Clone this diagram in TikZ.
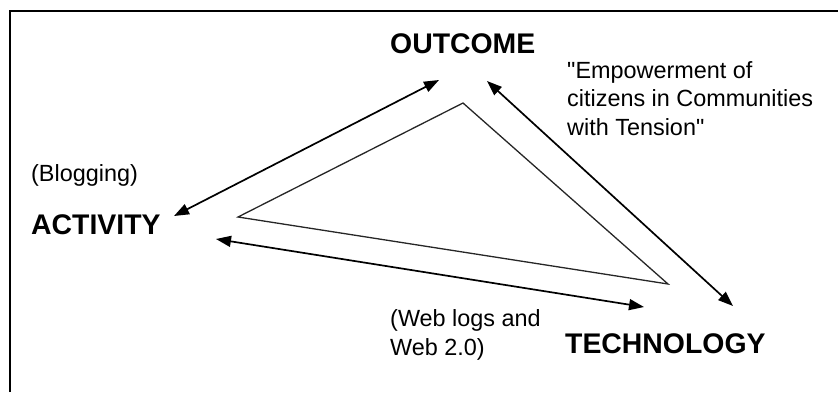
\documentclass[tikz,border=0pt]{standalone}
\usepackage{fontspec}
\setmainfont{Liberation Sans}
\newfontfamily\notefont{Liberation Sans}
\usetikzlibrary{arrows.meta, positioning}
\tikzstyle{corner} = [font=\fontsize{28.5}{28.5}\selectfont\bfseries, inner sep=0pt, anchor=base west]
\tikzstyle{note} = [font=\notefont\fontsize{23.5}{28.5}\selectfont, inner sep=0pt, align=left, anchor=base west]
\tikzstyle{arrow} = [line width=1.7bp, black, <->, >={Triangle[length=15bp,width=11bp]}]
\tikzstyle{edge} = [line width=1.3bp, black!85, line join=miter]

\begin{document}
\begin{tikzpicture}[x=1bp, y=-1bp]
\useasboundingbox (0,0) rectangle (838,392);

% Frame (top and left only)
\draw[line width=2bp] (9.5,392) -- (9.5,11) -- (838,11);

% Corners of the triangle
\node (outcome) [corner] at (390,53) {OUTCOME};
\node (activity) [corner] at (31,234) {ACTIVITY};
\node (technology) [corner] at (565,353) {TECHNOLOGY};

% Notes (base = last line)
\node (empower) [note] at (567,135) {"Empowerment of\\citizens in Communities\\with Tension"};
\node (blogging) [note] at (31,181) {(Blogging)};
\node (weblogs) [note] at (390,355) {(Web logs and\\Web 2.0)};

% Arrow ends
\coordinate (act-up) at (174,216);
\coordinate (out-left) at (439,80);
\coordinate (out-right) at (487,81);
\coordinate (tech-up) at (733,306);
\coordinate (act-down) at (216,239);
\coordinate (tech-left) at (644,307);

% Inner triangle
\coordinate (top) at (463,103);
\coordinate (left) at (238,217);
\coordinate (right) at (668,284);
\draw [edge] (top) -- (left) -- (right) -- cycle;

% Arrows
\draw [arrow] (act-up) -- (out-left);
\draw [arrow] (out-right) -- (tech-up);
\draw [arrow] (act-down) -- (tech-left);

\end{tikzpicture}
\end{document}
